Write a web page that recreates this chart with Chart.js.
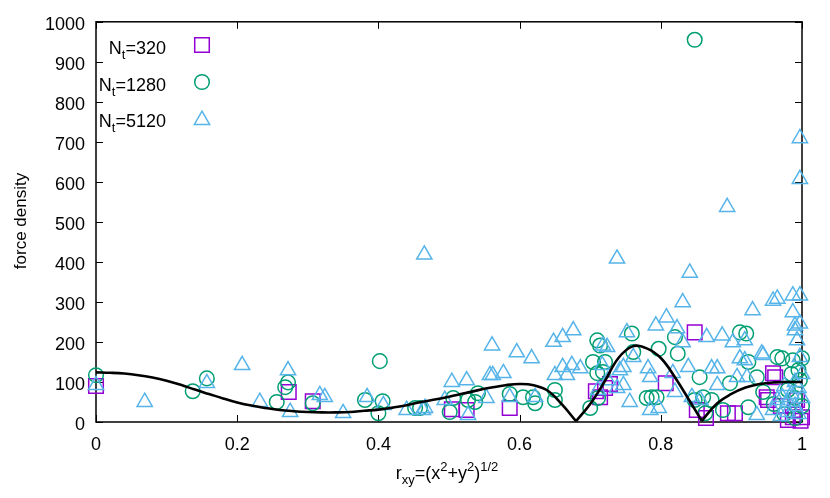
<!DOCTYPE html>
<html>
<head>
<meta charset="utf-8">
<script src="https://cdn.jsdelivr.net/npm/chart.js@4.4.1/dist/chart.umd.min.js"></script>
<style>
html,body{margin:0;padding:0;background:#fff;}
#wrap{width:830px;height:498px;}
</style>
</head>
<body>
<div id="wrap"><canvas id="c" width="830" height="498"></canvas></div>
<script>
// ---------- data ----------
const seriesNames = ['320', '1280', '5120'];
const xTickLabels = ['0', '0.2', '0.4', '0.6', '0.8', '1'];
const yTickLabels = ['0','100','200','300','400','500','600','700','800','900','1000'];

// reference curve (three lobes meeting at the cusps)
const curveR = [0,0.02,0.04,0.06,0.08,0.10,0.12,0.14,0.16,0.18,0.20,0.22,0.24,0.26,0.28,0.30,0.32,0.34,0.36,0.38,0.40,0.42,0.44,0.46,0.48,0.50,0.52,0.54,0.56,0.58,0.60,0.62,0.64,0.66,0.68,0.70,0.72,0.74,0.76,0.78,0.80,0.82,0.84,0.858,0.88,0.90,0.92,0.94,0.96,0.98,1.00];
const curveF = [124,123,121,117,111,103,93,81,70,59,49,41,35,30,27,25,24,24,25,28,31,36,42,50,56,63,71,79,86,92,95,92,78,44,2,45,100,160,189,184,160,112,55,3,47,70,86,95,99,100,100];
const cuspR = [0.68, 0.858];

// N_t = 320 (squares)
const sqR = [0,0.273,0.307,0.504,0.525,0.586,0.708,0.714,0.721,0.728,0.807,0.848,0.851,0.864,0.895,0.905,0.95,0.952,0.959,0.962,0.98,0.987,0.993,1.0,0.99,0.97,0.998];
const sqF = [90,75,52,32,30,35,77,62,85,95,97,224,30,10,22,22,62,55,122,112,5,12,55,12,30,40,3];

// N_t = 1280 (circles)
const ciR = [0,0.137,0.157,0.256,0.268,0.272,0.307,0.381,0.402,0.406,0.4,0.452,0.459,0.501,0.506,0.527,0.537,0.541,0.586,0.605,0.619,0.622,0.65,0.65,0.70,0.704,0.71,0.714,0.721,0.71,0.718,0.711,0.759,0.761,0.78,0.787,0.794,0.797,0.82,0.824,0.848,0.848,0.855,0.86,0.863,0.872,0.888,0.898,0.912,0.921,0.924,0.924,0.936,0.965,0.972,0.987,1.0,0.997,0.98,0.99,0.995,0.975,0.99,1.0,0.96,0.985,0.945];
const ciF = [117,77,109,50,87,99,47,55,152,52,22,35,35,25,60,55,50,72,70,62,62,47,80,55,35,150,204,191,150,122,125,60,221,175,60,62,62,183,212,171,955,55,112,62,22,55,30,97,224,221,150,37,112,162,159,154,159,105,80,60,130,20,10,40,45,120,75];

// N_t = 5120 (triangles)
const trR = [0,0.069,0.157,0.207,0.232,0.272,0.275,0.317,0.324,0.35,0.384,0.407,0.44,0.463,0.465,0.466,0.494,0.504,0.525,0.527,0.553,0.558,0.561,0.562,0.577,0.586,0.596,0.617,0.622,0.648,0.65,0.661,0.661,0.667,0.674,0.676,0.686,0.711,0.717,0.718,0.724,0.725,0.738,0.738,0.742,0.747,0.747,0.752,0.756,0.761,0.782,0.785,0.785,0.793,0.797,0.808,0.817,0.82,0.823,0.831,0.831,0.839,0.841,0.844,0.856,0.865,0.872,0.88,0.88,0.887,0.894,0.902,0.908,0.912,0.919,0.919,0.922,0.93,0.936,0.943,0.945,0.959,0.959,0.965,0.972,0.987,0.987,0.99,0.99,0.993,0.997,0.997,0.997,0.997,0.997,0.975,0.98,0.985,0.99,0.995,0.99,0.97,1.0,0.995,0.98,0.965,1.0];
const trF = [92,50,97,142,50,129,25,67,62,22,62,42,30,30,418,35,55,100,104,17,60,117,191,117,122,62,174,159,62,200,117,212,137,117,142,229,134,80,142,191,187,104,408,85,129,137,92,224,50,162,134,112,30,241,35,261,122,75,234,299,199,137,373,62,55,212,134,134,92,216,537,199,112,159,204,154,112,279,17,171,167,303,30,308,62,316,274,241,229,204,316,246,162,709,607,90,50,70,40,20,100,15,60,85,25,55,120];

// ---------- helpers ----------
const FONT = '"Liberation Sans", Arial, Helvetica, sans-serif';
const COLORS = ['#9400D3', '#009E73', '#56B4E9'];
const STYLES = ['rect', 'circle', 'triangle'];
const RADII = [10.3, 7.3, 8.8];

function pts(xs, ys) { return xs.map((x, i) => ({x: x, y: ys[i]})); }

function drawRich(ctx, segs, x, y, align) {
  const big = '18px ' + FONT, small = '13px ' + FONT;
  let w = 0;
  segs.forEach(s => { ctx.font = s[1] === 0 ? big : small; w += ctx.measureText(s[0]).width; });
  let cx = align === 'right' ? x - w : (align === 'center' ? x - w / 2 : x);
  ctx.textAlign = 'left';
  ctx.textBaseline = 'alphabetic';
  segs.forEach(s => {
    ctx.font = s[1] === 0 ? big : small;
    const dy = s[1] === -1 ? 5 : (s[1] === 1 ? -8 : 0);
    ctx.fillText(s[0], cx, y + dy);
    cx += ctx.measureText(s[0]).width;
  });
}

const framePlugin = {
  id: 'frame',
  beforeDatasetsDraw(chart) {
    const ctx = chart.ctx, a = chart.chartArea;
    const xs = chart.scales.x, ys = chart.scales.y;
    ctx.save();
    ctx.strokeStyle = '#000';
    ctx.lineWidth = 1;
    const TL = 7;
    ctx.beginPath();
    xs.ticks.forEach(t => {
      const px = Math.round(xs.getPixelForValue(t.value)) + 0.5;
      ctx.moveTo(px, a.bottom); ctx.lineTo(px, a.bottom - TL);
      ctx.moveTo(px, a.top); ctx.lineTo(px, a.top + TL);
    });
    ys.ticks.forEach(t => {
      const py = Math.round(ys.getPixelForValue(t.value)) + 0.5;
      ctx.moveTo(a.left, py); ctx.lineTo(a.left + TL, py);
      ctx.moveTo(a.right, py); ctx.lineTo(a.right - TL, py);
    });
    ctx.stroke();
    ctx.lineWidth = 1.5;
    ctx.strokeRect(a.left, a.top, a.right - a.left, a.bottom - a.top);
    ctx.restore();
  },
  afterDraw(chart) {
    const ctx = chart.ctx;
    ctx.save();
    ctx.fillStyle = '#000';
    drawRich(ctx, [['r',0],['xy',-1],['=(x',0],['2',1],['+y',0],['2',1],[')',0],['1/2',1]], 447, 479, 'center');
    ctx.save();
    ctx.translate(26, 221);
    ctx.rotate(-Math.PI / 2);
    ctx.font = '17px ' + FONT;
    ctx.textAlign = 'center';
    ctx.textBaseline = 'alphabetic';
    ctx.fillText('force density', 0, 0);
    ctx.restore();
    const rows = [45, 82, 118];
    seriesNames.forEach((n, i) => {
      ctx.fillStyle = '#000';
      drawRich(ctx, [['N',0],['t',-1],['=' + n,0]], 166, rows[i] + 9, 'right');
      ctx.strokeStyle = COLORS[i];
      ctx.fillStyle = 'rgba(0,0,0,0)';
      ctx.lineWidth = 1.5;
      Chart.helpers.drawPoint(ctx, {pointStyle: STYLES[i], radius: RADII[i], borderWidth: 1.5}, 202, rows[i] + (i === 2 ? 2 : 0));
    });
    ctx.restore();
  }
};

function scatterSet(label, xs, ys, i) {
  return {
    label: label,
    data: pts(xs, ys),
    pointStyle: STYLES[i],
    pointRadius: RADII[i],
    pointBorderWidth: 1.5,
    borderColor: COLORS[i],
    backgroundColor: 'rgba(0,0,0,0)',
    showLine: false,
    clip: false,
    order: 3 - i
  };
}

// split the curve into its lobes at the cusps, so each lobe is smooth and the cusps stay sharp
const bounds = [-1].concat(cuspR, [2]);
const curveSets = [];
for (let k = 0; k < bounds.length - 1; k++) {
  const d = [];
  curveR.forEach((r, i) => { if (r >= bounds[k] && r <= bounds[k + 1]) d.push({x: r, y: curveF[i]}); });
  curveSets.push({
    label: 'curve' + k,
    data: d,
    showLine: true,
    borderColor: '#000',
    borderWidth: 2.6,
    pointRadius: 0,
    tension: 0.4,
    order: 0
  });
}

new Chart(document.getElementById('c'), {
  type: 'scatter',
  data: {
    datasets: curveSets.concat([
      scatterSet('N_t=320', sqR, sqF, 0),
      scatterSet('N_t=1280', ciR, ciF, 1),
      scatterSet('N_t=5120', trR, trF, 2)
    ])
  },
  options: {
    responsive: false,
    animation: false,
    devicePixelRatio: 1,
    layout: { padding: { top: 20, right: 28, left: 0, bottom: 0 } },
    plugins: { legend: { display: false }, tooltip: { enabled: false } },
    scales: {
      x: {
        type: 'linear', min: 0, max: 1,
        grid: { display: false, drawTicks: false },
        border: { display: false },
        afterFit(s) { s.height = 76; },
        ticks: {
          stepSize: 0.2, padding: 12, color: '#000', maxRotation: 0,
          font: { family: FONT, size: 18 },
          callback: (v, i) => xTickLabels[i]
        }
      },
      y: {
        type: 'linear', min: 0, max: 1000,
        grid: { display: false, drawTicks: false },
        border: { display: false },
        afterFit(s) { s.width = 96; },
        ticks: {
          stepSize: 100, padding: 11, color: '#000', labelOffset: 3,
          font: { family: FONT, size: 18 },
          callback: (v, i) => yTickLabels[i]
        }
      }
    }
  },
  plugins: [framePlugin]
});
</script>
</body>
</html>
